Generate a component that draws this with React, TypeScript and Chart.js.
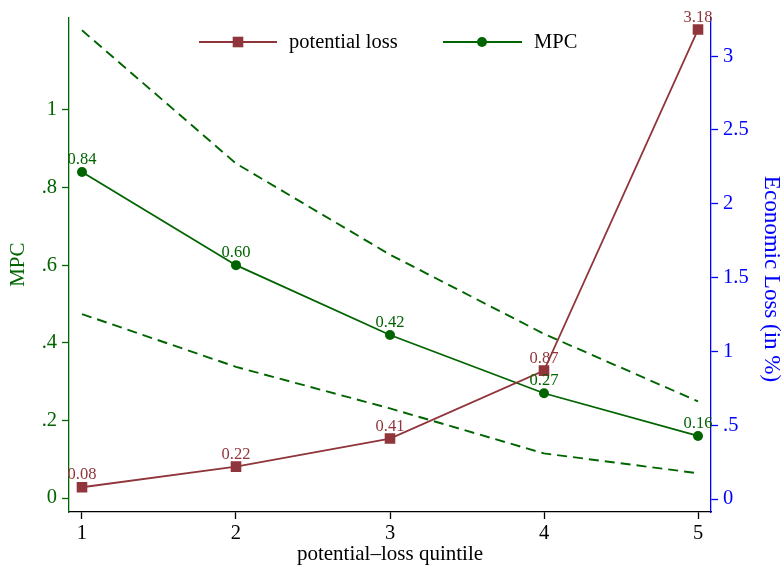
import React, { useEffect, useRef } from "react";
import { Chart, registerables } from "chart.js";

Chart.register(...registerables);

// ---- data ----
const QUINTILES = [1, 2, 3, 4, 5];
const MPC = [0.84, 0.6, 0.42, 0.27, 0.16];
const MPC_UPPER = [1.205, 0.862, 0.627, 0.423, 0.249];
const MPC_LOWER = [0.474, 0.338, 0.231, 0.115, 0.064];
const LOSS = [0.08, 0.22, 0.41, 0.87, 3.18];
const LEFT_TICKS = [0, 0.2, 0.4, 0.6, 0.8, 1];
const RIGHT_TICKS = [0, 0.5, 1, 1.5, 2, 2.5, 3];
const X_TICKS = [1, 2, 3, 4, 5];

const RED = "#90353B";
const GREEN = "#006400";
const BLUE = "#0000FF";
const FONT = "'Liberation Serif', 'Times New Roman', serif";

const fmt = (v: number) => String(v).replace(/^0\./, ".");

const pts = (ys: number[]) => QUINTILES.map((x, i) => ({ x, y: ys[i] }));

const labelPlugin = {
  id: "pointLabels",
  afterDatasetsDraw(chart: any) {
    const ctx = chart.ctx;
    ctx.save();
    ctx.font = `16.5px ${FONT}`;
    ctx.textAlign = "center";
    ctx.textBaseline = "alphabetic";
    chart.data.datasets.forEach((ds: any, i: number) => {
      if (!ds.showLabels) return;
      const meta = chart.getDatasetMeta(i);
      ctx.fillStyle = ds.borderColor;
      meta.data.forEach((el: any, j: number) => {
        const { x, y } = el.getProps(["x", "y"], true);
        ctx.fillText(ds.data[j].y.toFixed(2), x, y - 8);
      });
    });
    ctx.restore();
  },
};

const legendPlugin = {
  id: "customLegend",
  afterDraw(chart: any) {
    const ctx = chart.ctx;
    ctx.save();
    const y = 42;
    // potential loss
    ctx.strokeStyle = RED;
    ctx.lineWidth = 1.8;
    ctx.beginPath();
    ctx.moveTo(199, y);
    ctx.lineTo(277, y);
    ctx.stroke();
    ctx.fillStyle = RED;
    ctx.fillRect(238 - 5.3, y - 5.3, 10.6, 10.6);
    // MPC
    ctx.strokeStyle = GREEN;
    ctx.beginPath();
    ctx.moveTo(443, y);
    ctx.lineTo(522, y);
    ctx.stroke();
    ctx.fillStyle = GREEN;
    ctx.beginPath();
    ctx.arc(482, y, 5, 0, Math.PI * 2);
    ctx.fill();
    ctx.fillStyle = "#000";
    ctx.font = `20.5px ${FONT}`;
    ctx.textBaseline = "middle";
    ctx.textAlign = "left";
    ctx.fillText("potential loss", 289, y + 1);
    ctx.fillText("MPC", 534, y + 1);
    ctx.restore();
  },
};

export default function App() {
  const ref = useRef<HTMLCanvasElement | null>(null);

  useEffect(() => {
    if (!ref.current) return;
    const chart = new Chart(ref.current, {
      type: "line",
      data: {
        datasets: [
          {
            label: "potential loss",
            data: pts(LOSS),
            yAxisID: "y1",
            borderColor: RED,
            backgroundColor: RED,
            borderWidth: 1.8,
            pointStyle: "rect",
            pointRadius: 7.5,
            pointBorderWidth: 0,
            tension: 0,
            showLabels: true,
          } as any,
          {
            label: "MPC",
            data: pts(MPC),
            yAxisID: "y",
            borderColor: GREEN,
            backgroundColor: GREEN,
            borderWidth: 1.8,
            pointStyle: "circle",
            pointRadius: 5,
            pointBorderWidth: 0,
            tension: 0,
            showLabels: true,
          } as any,
          {
            label: "upper",
            data: pts(MPC_UPPER),
            yAxisID: "y",
            borderColor: GREEN,
            borderWidth: 1.9,
            borderDash: [10, 6],
            pointRadius: 0,
            tension: 0,
          },
          {
            label: "lower",
            data: pts(MPC_LOWER),
            yAxisID: "y",
            borderColor: GREEN,
            borderWidth: 1.9,
            borderDash: [10, 6],
            pointRadius: 0,
            tension: 0,
          },
        ],
      },
      options: {
        responsive: false,
        animation: false,
        devicePixelRatio: 1,
        layout: { padding: { top: 15, left: 0, right: 0, bottom: 0 } },
        plugins: {
          legend: { display: false },
          tooltip: { enabled: false },
        },
        scales: {
          x: {
            type: "linear",
            min: 0.9156,
            max: 5.0844,
            afterBuildTicks: (s: any) => {
              s.ticks = X_TICKS.map((v) => ({ value: v }));
            },
            afterFit: (s: any) => {
              s.height = 55;
            },
            grid: {
              drawOnChartArea: false,
              drawTicks: true,
              tickLength: 7,
              color: "#000",
              tickWidth: 1.3,
            },
            border: { color: "#000", width: 1.3 },
            ticks: {
              color: "#000",
              font: { family: FONT, size: 20.5 },
              padding: 2,
              maxRotation: 0,
              callback: (v: any) => String(v),
            },
            title: {
              display: true,
              text: "potential\u2013loss quintile",
              color: "#000",
              font: { family: FONT, size: 21 },
              padding: { top: 0, bottom: 0 },
            },
          },
          y: {
            type: "linear",
            position: "left",
            min: -0.0359,
            max: 1.2385,
            afterBuildTicks: (s: any) => {
              s.ticks = LEFT_TICKS.map((v) => ({ value: v }));
            },
            afterFit: (s: any) => {
              s.width = 69;
            },
            grid: {
              drawOnChartArea: false,
              tickLength: 7,
              color: GREEN,
              tickWidth: 1.3,
            },
            border: { color: GREEN, width: 1.3 },
            ticks: {
              color: GREEN,
              font: { family: FONT, size: 20.5 },
              padding: 5,
              callback: (v: any) => fmt(v),
            },
            title: {
              display: true,
              text: "MPC",
              color: GREEN,
              font: { family: FONT, size: 21 },
              padding: { top: 6, bottom: 0 },
            },
          },
          y1: {
            type: "linear",
            position: "right",
            min: -0.0876,
            max: 3.263,
            afterBuildTicks: (s: any) => {
              s.ticks = RIGHT_TICKS.map((v) => ({ value: v }));
            },
            afterFit: (s: any) => {
              s.width = 73;
            },
            grid: {
              drawOnChartArea: false,
              tickLength: 7,
              color: BLUE,
              tickWidth: 1.3,
            },
            border: { color: BLUE, width: 1.3 },
            ticks: {
              color: BLUE,
              font: { family: FONT, size: 20.5 },
              padding: 5,
              callback: (v: any) => fmt(v),
            },
            title: {
              display: true,
              text: "\u00a0\u00a0\u00a0\u00a0\u00a0Economic Loss (in %)",
              color: BLUE,
              font: { family: FONT, size: 23 },
              padding: { top: -1, bottom: 0 },
            },
          },
        },
      } as any,
      plugins: [labelPlugin, legendPlugin],
    });
    return () => chart.destroy();
  }, []);

  return (
    <div style={{ position: "absolute", left: 0, top: 0, width: 784, height: 567, background: "#fff" }}>
      <canvas ref={ref} width={784} height={567} style={{ display: "block" }} />
    </div>
  );
}
